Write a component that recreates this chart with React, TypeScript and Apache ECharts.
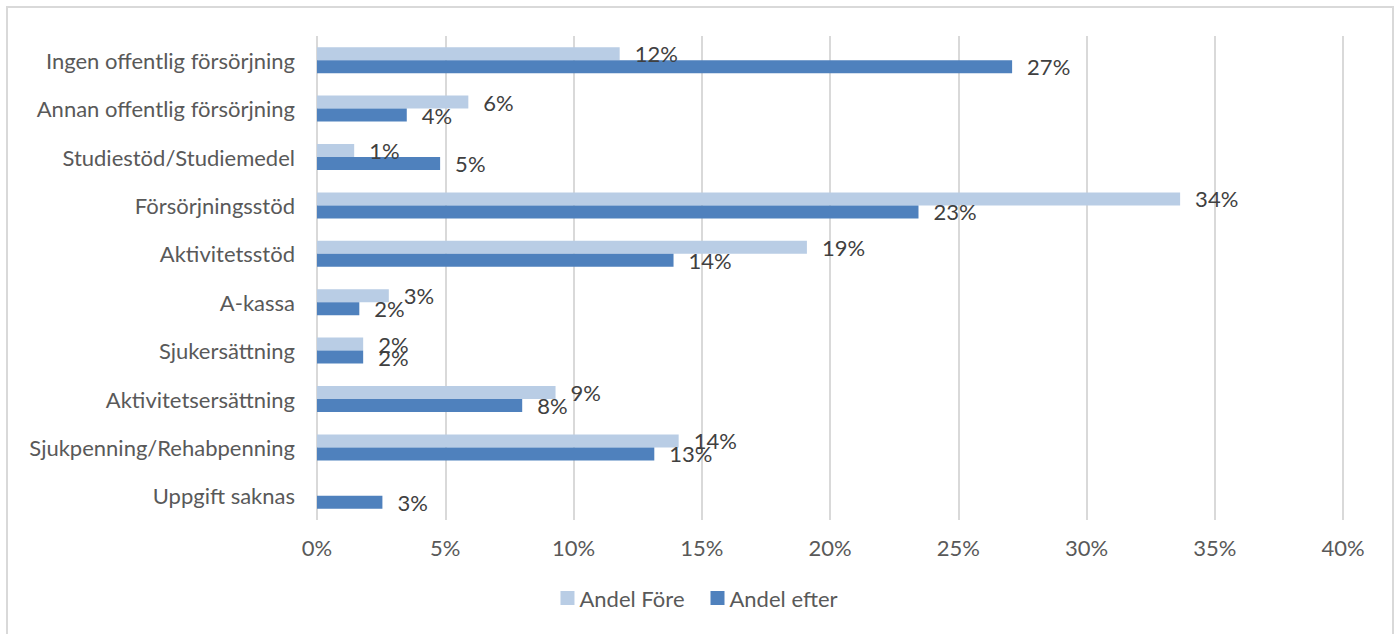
import React, { useEffect, useRef } from "react";
import * as echarts from "echarts";

const categories = [
  "Ingen offentlig försörjning",
  "Annan offentlig försörjning",
  "Studiestöd/Studiemedel",
  "Försörjningsstöd",
  "Aktivitetsstöd",
  "A-kassa",
  "Sjukersättning",
  "Aktivitetsersättning",
  "Sjukpenning/Rehabpenning",
  "Uppgift saknas",
];

// Shares in percent
const andelFore: (number | null)[] = [11.8, 5.9, 1.45, 33.65, 19.1, 2.8, 1.8, 9.3, 14.1, null];
const andelEfter: number[] = [27.1, 3.5, 4.8, 23.45, 13.9, 1.65, 1.8, 8.0, 13.15, 2.55];

const xTicks = { min: 0, max: 40, interval: 5 };

const FONT = "Lato";
const LIGHT = "#b9cde5";
const DARK = "#4f81bd";

export default function App() {
  const ref = useRef<HTMLDivElement>(null);

  useEffect(() => {
    if (!ref.current) return;
    const chart = echarts.init(ref.current, null, { renderer: "svg" });
    const label = {
      show: true,
      position: "right" as const,
      distance: 15,
      offset: [0, 0],
      color: "#404040",
      fontFamily: FONT,
      fontSize: 22,
      formatter: (p: any) => (p.value == null ? "" : `${Math.round(p.value)}%`),
    };
    chart.setOption({
      animation: false,
      textStyle: { fontFamily: FONT },
      graphic: [
        {
          type: "rect",
          shape: { x: 7, y: 7, width: 1386, height: 660 },
          style: { fill: "none", stroke: "#d9d9d9", lineWidth: 2 },
          silent: true,
        },
      ],
      grid: { left: 317, right: 55, top: 36, bottom: 114, containLabel: false },
      legend: {
        bottom: 20,
        left: "center",
        itemWidth: 14,
        itemHeight: 14,
        itemGap: 26,
        icon: "rect",
        textStyle: { color: "#595959", fontSize: 22, fontFamily: FONT },
        data: ["Andel Före", "Andel efter"],
      },
      xAxis: {
        type: "value",
        min: xTicks.min,
        max: xTicks.max,
        interval: xTicks.interval,
        axisLine: { show: false },
        axisTick: { show: false },
        axisLabel: {
          formatter: "{value}%",
          color: "#595959",
          fontSize: 22,
          fontFamily: FONT,
          margin: 16,
        },
        splitLine: { show: true, lineStyle: { color: "#d9d9d9", width: 2 } },
      },
      yAxis: {
        type: "category",
        inverse: true,
        data: categories,
        axisLine: { show: false },
        axisTick: { show: false },
        axisLabel: {
          color: "#595959",
          fontSize: 22,
          fontFamily: FONT,
          margin: 22,
          padding: [0, 0, 9, 0],
        },
      },
      series: [
        {
          name: "Andel Före",
          type: "bar",
          data: andelFore,
          barWidth: 13,
          barGap: "0%",
          itemStyle: { color: LIGHT },
          label,
        },
        {
          name: "Andel efter",
          type: "bar",
          data: andelEfter,
          barWidth: 13,
          barGap: "0%",
          itemStyle: { color: DARK },
          label,
        },
      ],
    });
    return () => chart.dispose();
  }, []);

  return (
    <div
      ref={ref}
      style={{ position: "fixed", left: 0, top: 0, width: 1398, height: 634, background: "#fff" }}
    />
  );
}
